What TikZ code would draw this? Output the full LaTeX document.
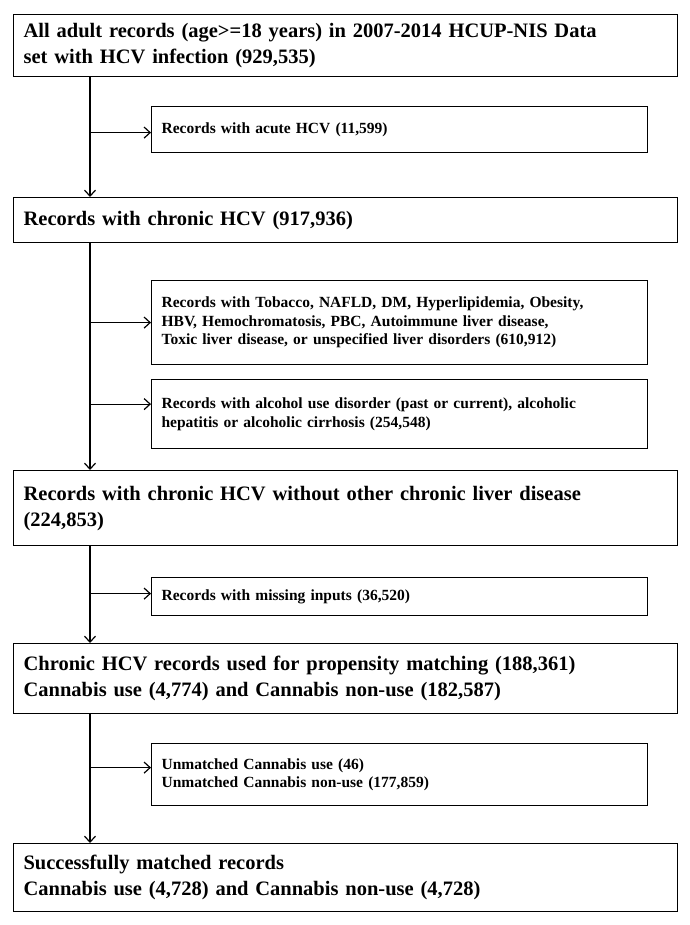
\documentclass[tikz,border=0pt]{standalone}
\usepackage{fontspec}
\setmainfont{Liberation Serif}
\usetikzlibrary{positioning,arrows.meta}
\tikzset{
    stage/.style={draw, line width=1.2pt, anchor=north west, text width=644pt, align=left,
        inner xsep=10pt, inner ysep=0pt, font=\bfseries\fontsize{20.5}{26}\selectfont},
    excl/.style={draw, line width=1.2pt, anchor=north west, text width=476pt, align=left,
        inner xsep=10pt, inner ysep=0pt, font=\bfseries\fontsize{15.5}{18.5}\selectfont},
    arr/.style={-{Straight Barb[length=6pt,width=11pt,line width=1.2pt]}, line width=1.2pt}
}
\begin{document}
\begin{tikzpicture}
            \useasboundingbox (0,0) rectangle (689pt,-925pt);
            \node[stage, minimum height=62pt] (all) at (13pt,-14pt)
                {All adult records (age>=18 years) in 2007-2014 HCUP-NIS Data\\ set with HCV infection (929,535)};
            \node[excl, minimum height=46pt] (acute) at (151pt,-106pt)
                {Records with acute HCV (11,599)};
            \node[stage, minimum height=45pt] (chronic) at (13pt,-197pt)
                {Records with chronic HCV (917,936)};
            \node[excl, minimum height=84pt] (other) at (151pt,-280pt)
                {Records with Tobacco, NAFLD, DM, Hyperlipidemia, Obesity,\\ HBV, Hemochromatosis, PBC, Autoimmune liver disease,\\ Toxic liver disease, or unspecified liver disorders (610,912)};
            \node[excl, minimum height=69pt] (alcohol) at (151pt,-379pt)
                {Records with alcohol use disorder (past or current), alcoholic\\ hepatitis or alcoholic cirrhosis (254,548)};
            \node[stage, minimum height=75pt] (pure) at (13pt,-470pt)
                {Records with chronic HCV without other chronic liver disease\\ (224,853)};
            \node[excl, minimum height=38pt] (missing) at (151pt,-577pt)
                {Records with missing inputs (36,520)};
            \node[stage, minimum height=70pt] (pool) at (13pt,-643pt)
                {Chronic HCV records used for propensity matching (188,361)\\ Cannabis use (4,774) and Cannabis non-use (182,587)};
            \node[excl, minimum height=62pt] (unmatched) at (151pt,-743pt)
                {Unmatched Cannabis use (46)\\ Unmatched Cannabis non-use (177,859)};
            \node[stage, minimum height=68pt] (matched) at (13pt,-843pt)
                {Successfully matched records\\ Cannabis use (4,728) and Cannabis non-use (4,728)};
            % trunk and branches
            \coordinate (trunk) at (90pt,0);
            \draw[arr] (trunk |- all.south) -- (trunk |- chronic.north);
            \draw[arr] (trunk |- chronic.south) -- (trunk |- pure.north);
            \draw[arr] (trunk |- pure.south) -- (trunk |- pool.north);
            \draw[arr] (trunk |- pool.south) -- (trunk |- matched.north);
            \draw[arr] ([yshift=-3pt]acute.west) +(-61pt,0) -- ([yshift=-3pt]acute.west);
            \draw[arr] (other.west) +(-61pt,0) -- (other.west);
            \draw[arr] ([yshift=10pt]alcohol.west) +(-61pt,0) -- ([yshift=10pt]alcohol.west);
            \draw[arr] ([yshift=3pt]missing.west) +(-61pt,0) -- ([yshift=3pt]missing.west);
            \draw[arr] ([yshift=7pt]unmatched.west) +(-61pt,0) -- ([yshift=7pt]unmatched.west);
\end{tikzpicture}
\end{document}
